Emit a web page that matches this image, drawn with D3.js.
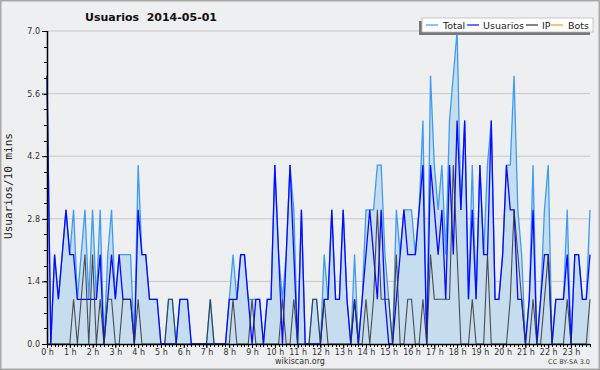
<!DOCTYPE html>
<html>
<head>
<meta charset="utf-8">
<script src="https://cdn.jsdelivr.net/npm/d3@7"></script>
<style>
  body { margin: 0; background: #fff; }
  svg text { font-family: "DejaVu Sans", sans-serif; }
</style>
</head>
<body>
<div class="chartWrap"></div>
<script>
// one value every 10 minutes, 0:00 -> 23:50
var hourLabels = ['0 h','1 h','2 h','3 h','4 h','5 h','6 h','7 h','8 h','9 h','10 h','11 h',
  '12 h','13 h','14 h','15 h','16 h','17 h','18 h','19 h','20 h','21 h','22 h','23 h'];
var yTicks = [0, 1.4, 2.8, 4.2, 5.6, 7.0];
var seriesNames = ['Total', 'Usuarios', 'IP', 'Bots'];

var total = [
  6,0,2,1,2,3,2,3,1,2,3,1,3,1,3,0,2,3,1,2,2,2,2,0,
  4,2,2,1,1,1,0,0,1,1,0,1,1,1,0,0,0,0,0,1,0,0,0,0,
  1,2,1,2,2,1,1,1,1,0,1,1,4,2,1,2,4,3,0,3,0,0,1,1,
  0,2,1,3,1,1,3,1,0,2,0,1,3,3,3,4,4,2,1,0,3,2,3,3,
  3,2,3,5,0,6,4,3,4,2,5,6,7,3,5,1,4,1,4,2,4,5,1,1,
  2,4,4,6,3,2,0,1,4,0,1,3,4,0,1,1,1,3,0,2,2,1,1,3
];
var usuarios = [
  6,0,2,1,2,3,2,2,1,1,1,1,1,1,2,0,1,2,1,2,1,1,1,0,
  3,2,2,1,1,1,0,0,0,0,0,1,1,1,0,0,0,0,0,0,0,0,0,0,
  1,1,1,2,2,1,0,1,1,0,1,1,4,2,0,2,4,2,0,3,0,0,0,0,
  0,1,1,3,1,1,3,1,0,1,0,1,2,3,2,1,3,1,0,0,1,2,3,2,
  2,2,3,4,0,4,3,2,3,1,4,2,5,3,5,1,3,1,4,2,2,5,1,1,
  2,4,3,3,1,1,0,1,3,0,1,2,2,0,1,1,1,2,0,2,2,1,1,2
];
var ip = [
  0,0,0,0,0,0,0,1,0,1,2,0,2,0,1,0,1,1,0,0,1,1,1,0,
  1,0,0,0,0,0,0,0,1,1,0,0,0,0,0,0,0,0,0,1,0,0,0,0,
  0,1,0,0,0,0,1,0,0,0,0,0,0,0,1,0,0,1,0,0,0,0,1,1,
  0,1,0,0,0,0,0,0,0,1,0,0,1,0,1,3,1,1,1,0,2,0,0,1,
  1,0,0,1,0,2,1,1,1,1,1,4,2,0,0,0,1,0,0,0,2,0,0,0,
  0,0,1,3,2,1,0,0,1,0,0,1,2,0,0,0,0,1,0,0,0,0,0,1
];

var usrChart = {

  init: function(){
    self = this;
    self.width = 600;
    self.height = 370;
    self.left = 47;
    self.right = 590;
    self.top = 31;
    self.bottom = 344;
    self.colors = {'Total':'#3d9cf5', 'Usuarios':'#0a0aff', 'IP':'#333333', 'Bots':'#ff9900'};
    self.bg = '#eeeff0';

    self.createSvg();
    self.drawFrame();
    self.drawSeries();
    self.drawAxes();
    self.drawLegend();
  },

  createSvg: function(){
    self.svg = d3.select('.chartWrap')
      .append('svg')
      .attr('width', self.width)
      .attr('height', self.height);

    self.x = d3.scaleLinear().domain([0, total.length - 1]).range([self.left, self.right]);
    self.y = d3.scaleLinear().domain([0, 7]).range([self.bottom, self.top]);
  },

  drawFrame: function(){
    self.svg.append('rect')
      .attr('x', 0.75).attr('y', 0.75)
      .attr('width', self.width - 1.5).attr('height', self.height - 1.5)
      .style('fill', self.bg)
      .style('stroke', '#a8a8a8')
      .style('stroke-width', 1.5);

    self.svg.append('text')
      .text('Usuarios  2014-05-01')
      .attr('x', 151).attr('y', 21)
      .attr('text-anchor', 'middle')
      .style('font-size', '11px')
      .style('font-weight', 'bold')
      .style('white-space', 'pre')
      .style('fill', '#111');

    self.svg.selectAll('.grid')
      .data(yTicks.slice(1))
      .enter()
        .append('line')
        .attr('class', 'grid')
        .attr('x1', self.left).attr('x2', self.right)
        .attr('y1', function(d){ return self.y(d); })
        .attr('y2', function(d){ return self.y(d); })
        .style('stroke', '#c8c8c8')
        .style('stroke-width', 1);
  },

  drawSeries: function(){
    var area = d3.area()
      .x(function(d, i){ return self.x(i); })
      .y0(self.y(0))
      .y1(function(d){ return self.y(d); });

    var line = d3.line()
      .x(function(d, i){ return self.x(i); })
      .y(function(d){ return self.y(d); });

    self.svg.append('path')
      .datum(total)
      .attr('d', area)
      .style('fill', '#c6dcef');

    self.svg.append('path')
      .datum(total)
      .attr('d', line)
      .style('fill', 'none')
      .style('stroke', self.colors['Total'])
      .style('stroke-width', 1.3);

    self.svg.append('path')
      .datum(usuarios)
      .attr('d', line)
      .style('fill', 'none')
      .style('stroke', self.colors['Usuarios'])
      .style('stroke-width', 1.3);

    self.svg.append('path')
      .datum(ip)
      .attr('d', line)
      .style('fill', 'none')
      .style('stroke', self.colors['IP'])
      .style('stroke-width', 1.1)
      .style('opacity', 0.85);
  },

  drawAxes: function(){
    // y axis: labelled every 1.4, minor every 0.35
    var yAxis = d3.axisLeft(self.y)
      .tickValues(yTicks)
      .tickFormat(function(d){ return d.toFixed(1); })
      .tickSize(5)
      .tickPadding(2);

    var gy = self.svg.append('g')
      .attr('transform', 'translate(' + self.left + ',0)')
      .call(yAxis);
    gy.select('.domain').remove();
    gy.selectAll('text').style('font-size', '8px').style('fill', '#333');

    var minorY = d3.range(0, 7.01, 0.35);
    self.svg.append('g').selectAll('line')
      .data(minorY)
      .enter()
        .append('line')
        .attr('x1', self.left - 3).attr('x2', self.left)
        .attr('y1', function(d){ return Math.round(self.y(d)) + 0.5; })
        .attr('y2', function(d){ return Math.round(self.y(d)) + 0.5; })
        .style('stroke', '#000');

    // x axis: tick every 10 minutes, label every hour
    var xAxis = d3.axisBottom(self.x)
      .tickValues(d3.range(0, total.length, 6))
      .tickFormat(function(d){ return hourLabels[d / 6]; })
      .tickSize(4)
      .tickPadding(1);

    var gx = self.svg.append('g')
      .attr('transform', 'translate(0,' + self.bottom + ')')
      .call(xAxis);
    gx.select('.domain').remove();
    gx.selectAll('text').style('font-size', '8px').style('fill', '#333');

    self.svg.append('g').selectAll('line')
      .data(d3.range(0, total.length))
      .enter()
        .append('line')
        .attr('x1', function(d){ return Math.round(self.x(d)) + 0.5; })
        .attr('x2', function(d){ return Math.round(self.x(d)) + 0.5; })
        .attr('y1', self.bottom).attr('y2', self.bottom + 3)
        .style('stroke', '#000');

    self.svg.append('line')
      .attr('x1', self.left + 0.5).attr('x2', self.left + 0.5)
      .attr('y1', self.top).attr('y2', self.bottom)
      .style('stroke', '#000').style('stroke-width', 1.5);
    self.svg.append('line')
      .attr('x1', self.left).attr('x2', self.right)
      .attr('y1', self.bottom + 0.5).attr('y2', self.bottom + 0.5)
      .style('stroke', '#000').style('stroke-width', 1.5);

    self.svg.append('text')
      .text('Usuarios/10 mins')
      .attr('transform', 'translate(12,186) rotate(-90)')
      .attr('text-anchor', 'middle')
      .style('font-family', '"DejaVu Sans Mono", monospace')
      .style('font-size', '11px')
      .style('fill', '#222');

    self.svg.append('text')
      .text('wikiscan.org')
      .attr('x', 300).attr('y', 364)
      .attr('text-anchor', 'middle')
      .style('font-size', '8px')
      .style('fill', '#333');

    self.svg.append('text')
      .text('CC BY-SA 3.0')
      .attr('x', 590).attr('y', 364)
      .attr('text-anchor', 'end')
      .style('font-size', '6.5px')
      .style('fill', '#444');
  },

  drawLegend: function(){
    var g = self.svg.append('g');
    g.append('rect')
      .attr('x', 419).attr('y', 21).attr('width', 171).attr('height', 14)
      .style('fill', '#777');
    g.append('rect')
      .attr('x', 422).attr('y', 18).attr('width', 171).attr('height', 14)
      .style('fill', '#fff')
      .style('stroke', '#bbb').style('stroke-width', 0.8);

    var itemX = [426, 467, 526, 551];
    var labelX = [443, 483, 542, 568];

    g.selectAll('.legLine')
      .data(seriesNames)
      .enter()
        .append('line')
        .attr('class', 'legLine')
        .attr('x1', function(d, i){ return itemX[i]; })
        .attr('x2', function(d, i){ return itemX[i] + 12; })
        .attr('y1', 25).attr('y2', 25)
        .style('stroke', function(d){ return self.colors[d]; })
        .style('stroke-width', 1.2);

    g.selectAll('.legText')
      .data(seriesNames)
      .enter()
        .append('text')
        .attr('class', 'legText')
        .text(function(d){ return d; })
        .attr('x', function(d, i){ return labelX[i]; })
        .attr('y', 28.5)
        .style('font-size', '9.5px')
        .style('fill', '#222');
  }
};

usrChart.init();
</script>
</body>
</html>
